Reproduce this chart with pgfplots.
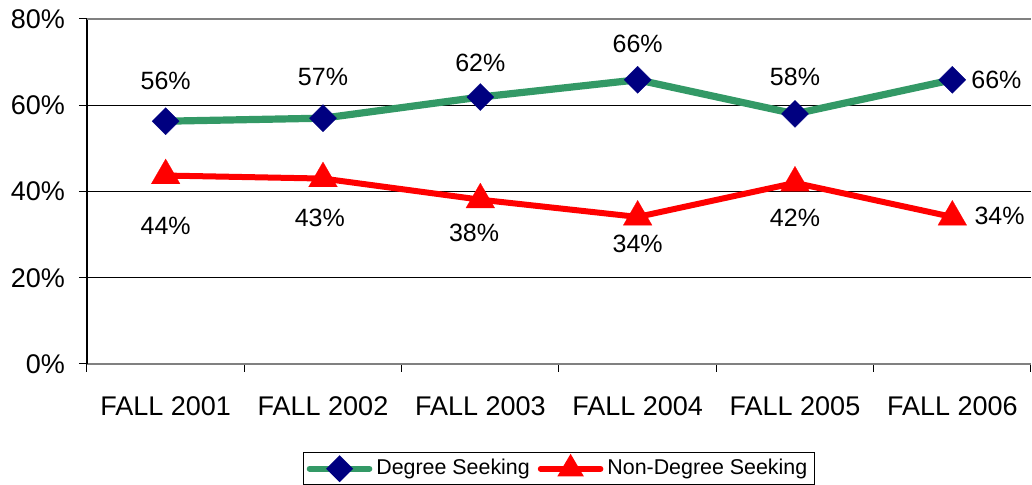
\documentclass[border=0pt]{standalone}
\usepackage{fontspec}
\setmainfont{Liberation Sans}
\usepackage{pgfplots}
\pgfplotsset{compat=1.18}
\definecolor{dgreen}{RGB}{51,153,102}
\definecolor{navy}{RGB}{0,0,128}
\begin{document}
\begin{tikzpicture}
\begin{axis}[
  scale only axis,
  width=472pt, height=172.5pt,
  xmin=-0.5, xmax=5.5,
  ymin=0, ymax=80,
  axis x line*=bottom,
  axis y line*=left,
  x axis line style={gray, line width=0.8pt},
  y axis line style={black, line width=0.6pt},
  xtick={0,1,2,3,4,5},
  xticklabels={FALL 2001,FALL 2002,FALL 2003,FALL 2004,FALL 2005,FALL 2006},
  major x tick style={draw=none},
  minor xtick={-0.5,0.5,1.5,2.5,3.5,4.5,5.5},
  minor x tick style={black, line width=0.5pt},
  minor tick length=4pt,
  ytick={0,20,40,60,80},
  yticklabel={\pgfmathprintnumber{\tick}\%},
  /pgf/number format/assume math mode=true,
  tick align=outside,
  major tick length=4pt,
  ymajorgrids,
  grid style={black, line width=0.5pt},
  y tick style={black, line width=0.5pt},
  tick label style={font=\fontsize{13.5}{16}\selectfont},
  xticklabel style={yshift=-9pt},
  yticklabel style={xshift=-3.5pt},
  clip=false,
  legend columns=2,
  legend style={at={(0.5,-0.255)}, anchor=north, draw=black, line width=0.5pt,
    font=\fontsize{10.7}{12}\selectfont, inner sep=1.5pt,
    /tikz/every even column/.append style={column sep=2pt}},
  legend cell align=left,
]
\draw[gray, line width=0.8pt] (axis cs:-0.5,80) -- (axis cs:5.5,80);
\addplot[color=dgreen, line width=3.6pt, mark=square*, mark size=4.8pt,
  mark options={rotate=45, fill=navy, draw=navy, line width=0.1pt},
  legend image code/.code={
    \draw[dgreen, line width=2.8pt, line cap=round] (0pt,0pt) -- (30pt,0pt);
    \fill[navy] (15pt,4.2pt) -- (19.2pt,0pt) -- (15pt,-4.2pt) -- (10.8pt,0pt) -- cycle;}]
  coordinates {(0,56.3) (1,57.0) (2,61.9) (3,65.9) (4,58.0) (5,65.9)};
\addlegendentry{Degree Seeking}
\addplot[color=red, line width=3pt, mark=triangle*, mark size=8.3pt,
  mark options={fill=red, draw=red, line width=0.1pt},
  legend image code/.code={
    \draw[red, line width=2.8pt, line cap=round] (0pt,0pt) -- (30pt,0pt);
    \fill[red] (15pt,4.5pt) -- (19pt,-2.3pt) -- (11pt,-2.3pt) -- cycle;}]
  coordinates {(0,43.7) (1,43.0) (2,38.1) (3,34.1) (4,42.0) (5,34.1)};
\addlegendentry{Non-Degree Seeking}
\begin{scope}[every node/.style={font=\fontsize{12.5}{15}\selectfont}]
\node at (axis cs:0,65.6) {56\%};
\node at (axis cs:1,66.6) {57\%};
\node at (axis cs:2,69.8) {62\%};
\node at (axis cs:3,74.2) {66\%};
\node at (axis cs:4,66.6) {58\%};
\node at (axis cs:5.28,65.9) {66\%};
\node at (axis cs:0,32.0) {44\%};
\node at (axis cs:0.98,33.9) {43\%};
\node at (axis cs:1.96,30.4) {38\%};
\node at (axis cs:3,27.8) {34\%};
\node at (axis cs:4,33.9) {42\%};
\node at (axis cs:5.30,34.3) {34\%};
\end{scope}
\end{axis}
\pgfresetboundingbox
\path (-43.5pt,-60.5pt) rectangle (472.5pt,182pt);
\end{tikzpicture}
\end{document}
